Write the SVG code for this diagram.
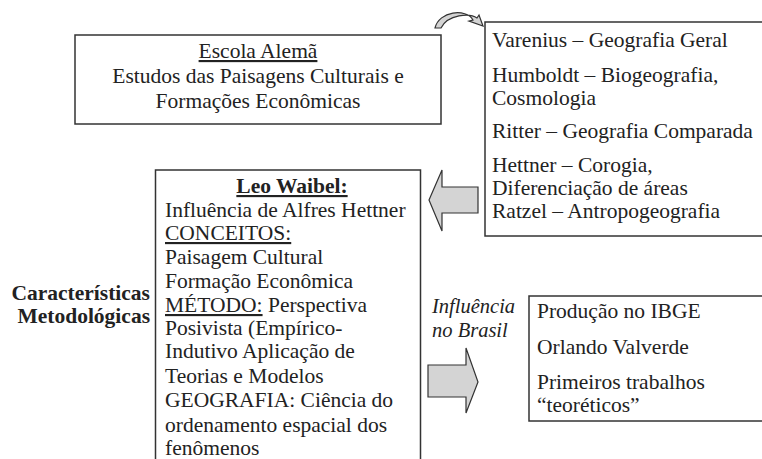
<svg xmlns="http://www.w3.org/2000/svg" width="762" height="459" viewBox="0 0 762 459">
<style>
.box{fill:#fff;stroke:#333;stroke-width:1.5}
.t{font-family:'Liberation Serif',serif;font-size:21.5px;fill:#222}
.b{font-weight:bold}
.i{font-style:italic;font-size:20.5px}
.u{text-decoration:underline}
.arr{fill:#d4d4d4;stroke:#333;stroke-width:1.2}
</style>
<rect width="762" height="459" fill="#fff"/>
<g id="escola">
<rect class="box" x="75" y="35" width="366" height="89"/>
<text class="t" text-anchor="middle" x="258" y="58"><tspan class="u">Escola Alemã</tspan></text>
<text class="t" text-anchor="middle" x="258" y="83">Estudos das Paisagens Culturais e</text>
<text class="t" text-anchor="middle" x="258" y="108">Formações Econômicas</text>
</g>
<g id="classicos">
<rect class="box" x="485" y="22" width="285" height="214"/>
<text class="t" x="492" y="47">Varenius – Geografia Geral</text>
<text class="t" x="492" y="82">Humboldt – Biogeografia,</text>
<text class="t" x="492" y="105">Cosmologia</text>
<text class="t" x="492" y="138">Ritter – Geografia Comparada</text>
<text class="t" x="492" y="172">Hettner – Corogia,</text>
<text class="t" x="492" y="195">Diferenciação de áreas</text>
<text class="t" x="492" y="218">Ratzel – Antropogeografia</text>
</g>
<g id="waibel">
<path class="box" d="M155.5,470 V170 H420.5 V470"/>
<text class="t b" text-anchor="middle" x="292" y="193"><tspan class="u">Leo Waibel:</tspan></text>
<text class="t" x="165" y="217">Influência de Alfres Hettner</text>
<text class="t" x="165" y="240"><tspan class="u">CONCEITOS:</tspan></text>
<text class="t" x="165" y="264">Paisagem Cultural</text>
<text class="t" x="165" y="288">Formação Econômica</text>
<text class="t" x="165" y="312"><tspan class="u">MÉTODO:</tspan> Perspectiva</text>
<text class="t" x="165" y="335">Posivista (Empírico-</text>
<text class="t" x="165" y="358">Indutivo Aplicação de</text>
<text class="t" x="165" y="383">Teorias e Modelos</text>
<text class="t" x="165" y="407">GEOGRAFIA: Ciência do</text>
<text class="t" x="165" y="432">ordenamento espacial dos</text>
<text class="t" x="165" y="455">fenômenos</text>
</g>
<g id="caracteristicas">
<text class="t b" text-anchor="end" x="150" y="300">Características</text>
<text class="t b" text-anchor="end" x="150" y="323">Metodológicas</text>
</g>
<g id="brasil">
<rect class="box" x="529" y="296" width="245" height="125"/>
<text class="t" x="537" y="318">Produção no IBGE</text>
<text class="t" x="537" y="354">Orlando Valverde</text>
<text class="t" x="537" y="389">Primeiros trabalhos</text>
<text class="t" x="537" y="412">“teoréticos”</text>
</g>
<g id="connectors">
<path class="arr" d="M435,28 C439,11 466,8 473,20 L469,21 L483,26 L479,15 L477,18 C470,13 448,14 441,28 Z"/>
<path class="arr" d="M478,187 H442 V170 L429,200 L442,231 V213 H478 Z"/>
<path class="arr" d="M428,365 H466 V348 L478,382 L466,413 V397 H428 Z"/>
<text class="t i" x="432" y="313">Influência</text>
<text class="t i" x="432" y="337">no Brasil</text>
</g>
</svg>
